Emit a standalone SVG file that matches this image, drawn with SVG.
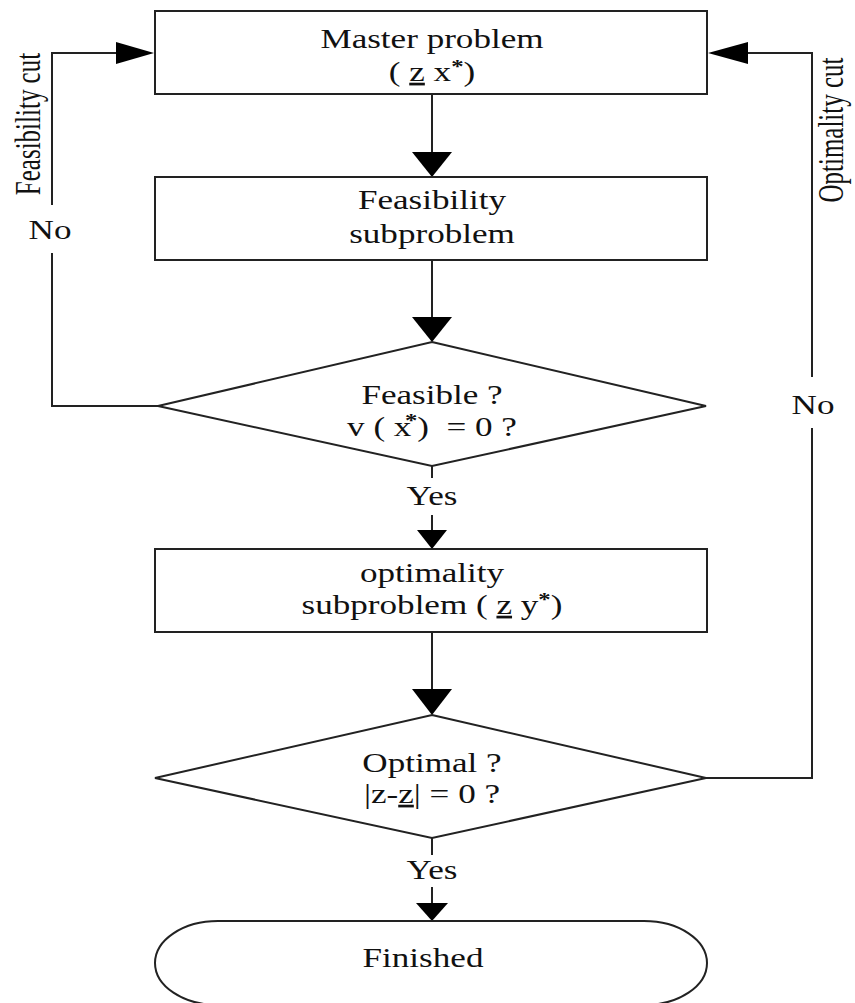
<svg xmlns="http://www.w3.org/2000/svg" width="855" height="1003" viewBox="0 0 855 1003">
<style>
.shape{fill:#fff;stroke:#222;stroke-width:2}
.ln{fill:none;stroke:#222;stroke-width:2}
.ah{fill:#000;stroke:none}
.t{font-family:"Liberation Serif","Times New Roman",serif;font-size:27px;fill:#111;text-anchor:middle}
.v{font-size:25px}
.sup{font-size:19px;font-weight:bold}
</style>
<rect width="855" height="1003" fill="#fff"/>
<g id="connectors">
  <line class="ln" x1="432" y1="94" x2="432" y2="153"/>
  <polygon class="ah" points="412,152 452,152 432,177"/>
  <line class="ln" x1="432" y1="260" x2="432" y2="318"/>
  <polygon class="ah" points="412,317 452,317 432,342"/>
  <line class="ln" x1="432" y1="466" x2="432" y2="478"/>
  <line class="ln" x1="432" y1="515" x2="432" y2="531"/>
  <polygon class="ah" points="417,530 447,530 432,549"/>
  <line class="ln" x1="432" y1="632" x2="432" y2="690"/>
  <polygon class="ah" points="412,689 452,689 432,715"/>
  <line class="ln" x1="432" y1="838" x2="432" y2="855"/>
  <line class="ln" x1="432" y1="887" x2="432" y2="904"/>
  <polygon class="ah" points="416,903 448,903 432,921"/>
  <polyline class="ln" points="158,406 52,406 52,253"/>
  <polyline class="ln" points="52,205 52,53 117,53"/>
  <polygon class="ah" points="116,42 116,64 154,53"/>
  <polyline class="ln" points="706,778 812,778 812,428"/>
  <polyline class="ln" points="812,377 812,53 747,53"/>
  <polygon class="ah" points="748,42 748,64 708,53"/>
  <text class="t" transform="translate(50,239) scale(1.3,1)">No</text>
  <text class="t" transform="translate(813,414) scale(1.3,1)">No</text>
  <text class="t v" transform="translate(40,124) scale(1.4,1) rotate(-90)">Feasibility cut</text>
  <text class="t v" transform="translate(843,130) scale(1.4,1) rotate(-90)">Optimality cut</text>
  <text class="t" transform="translate(432,505) scale(1.3,1)">Yes</text>
  <text class="t" transform="translate(432,879) scale(1.3,1)">Yes</text>
</g>
<g id="master">
  <rect class="shape" x="155" y="11" width="552" height="83"/>
  <text class="t" transform="translate(432,48) scale(1.3,1)">Master problem</text>
  <text class="t" transform="translate(432,81) scale(1.3,1)">( <tspan text-decoration="underline">z</tspan> x<tspan class="sup" dy="-8">*</tspan><tspan dy="8">)</tspan></text>
</g>
<g id="feasibility">
  <rect class="shape" x="155" y="177" width="552" height="83"/>
  <text class="t" transform="translate(432,209) scale(1.3,1)">Feasibility</text>
  <text class="t" transform="translate(432,243) scale(1.3,1)">subproblem</text>
</g>
<g id="feasible">
  <polygon class="shape" points="432,342 706,406 432,466 158,406"/>
  <text class="t" transform="translate(432,404) scale(1.3,1)">Feasible ?</text>
  <text class="t" xml:space="preserve" transform="translate(432,436) scale(1.3,1)">v ( x<tspan class="sup" dx="-5" dy="-9">*</tspan><tspan dy="9">)  = 0 ?</tspan></text>
</g>
<g id="optimality">
  <rect class="shape" x="155" y="549" width="552" height="83"/>
  <text class="t" transform="translate(432,582) scale(1.3,1)">optimality</text>
  <text class="t" transform="translate(432,614) scale(1.3,1)">subproblem ( <tspan text-decoration="underline">z</tspan> y<tspan class="sup" dy="-8">*</tspan><tspan dy="8">)</tspan></text>
</g>
<g id="optimal">
  <polygon class="shape" points="432,715 706,778 432,838 155,778"/>
  <text class="t" transform="translate(432,772) scale(1.3,1)">Optimal ?</text>
  <text class="t" transform="translate(432,803) scale(1.3,1)">|z-<tspan text-decoration="underline">z</tspan>| = 0 ?</text>
</g>
<g id="finished">
  <path class="shape" d="M218,921 H644 A63 42 0 0 1 644,1005 H218 A63 42 0 0 1 218,921 Z"/>
  <text class="t" transform="translate(423,967) scale(1.3,1)">Finished</text>
</g>
</svg>
